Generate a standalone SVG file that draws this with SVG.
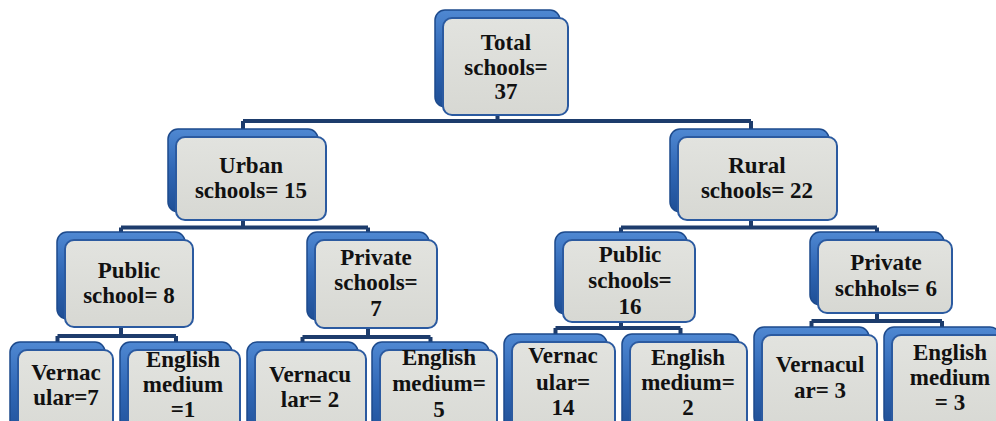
<svg xmlns="http://www.w3.org/2000/svg" width="996" height="421" viewBox="0 0 996 421">
<defs>
<linearGradient id="gb" x1="0" y1="0" x2="0" y2="1">
<stop offset="0" stop-color="#4f88d2"/>
<stop offset="0.5" stop-color="#2f66b4"/>
<stop offset="1" stop-color="#1f4f96"/>
</linearGradient>
<linearGradient id="gg" x1="0" y1="0" x2="0" y2="1">
<stop offset="0" stop-color="#e2e3df"/>
<stop offset="1" stop-color="#d7d8d3"/>
</linearGradient>
<style>
.b{fill:url(#gb);stroke:#1d4a8c;stroke-width:1.5}
.g{fill:url(#gg);stroke:#2b5aa0;stroke-width:2}
.c{fill:none;stroke:#1d3c6c;stroke-width:4}
.t{font-family:'Liberation Serif','Times New Roman',Tinos,'DejaVu Serif',serif;font-weight:bold;font-size:23px;fill:#111;text-anchor:middle}
</style>
</defs>
<rect width="996" height="421" fill="#ffffff"/>
<g id="connectors">
<path class="c" d="M497.5 107V121M243 121H751M243 121V129M751 121V129"/>
<path class="c" d="M243 220V227.5M121 227.5H368M121 227.5V232M368 227.5V232"/>
<path class="c" d="M751 220V227.5M621 227.5H877M621 227.5V232M877 227.5V232"/>
<path class="c" d="M121 327V336M57.5 336H176M57.5 336V342M176 336V342"/>
<path class="c" d="M368 328V337M302.5 337H430.5M302.5 337V342M430.5 337V342"/>
<path class="c" d="M621 322V328M555.5 328H680.5M555.5 328V334M680.5 328V334"/>
<path class="c" d="M877 313V321M811.5 321H942M811.5 321V327M942 321V327"/>
</g>
<g id="n-total">
<rect class="b" x="435" y="10" width="125" height="97" rx="10"/>
<rect class="g" x="443" y="18" width="125" height="97" rx="9"/>
<text class="t" x="506" y="50">Total</text><text class="t" x="506" y="75">schools=</text><text class="t" x="506" y="99">37</text>
</g>
<g id="n-urban">
<rect class="b" x="168" y="129" width="150" height="83" rx="10"/>
<rect class="g" x="176" y="137" width="150" height="83" rx="9"/>
<text class="t" x="251" y="173">Urban</text><text class="t" x="251" y="198">schools= 15</text>
</g>
<g id="n-rural">
<rect class="b" x="670" y="129" width="159" height="83" rx="10"/>
<rect class="g" x="678" y="137" width="159" height="83" rx="9"/>
<text class="t" x="757" y="173">Rural</text><text class="t" x="757" y="198">schools= 22</text>
</g>
<g id="n-urban-public">
<rect class="b" x="57" y="232" width="128" height="87" rx="10"/>
<rect class="g" x="65" y="240" width="128" height="87" rx="9"/>
<text class="t" x="129" y="278">Public</text><text class="t" x="129" y="303">school= 8</text>
</g>
<g id="n-urban-private">
<rect class="b" x="307" y="232" width="122" height="88" rx="10"/>
<rect class="g" x="315" y="240" width="122" height="88" rx="9"/>
<text class="t" x="376" y="265">Private</text><text class="t" x="376" y="290">schools=</text><text class="t" x="376" y="316">7</text>
</g>
<g id="n-rural-public">
<rect class="b" x="555" y="232" width="132" height="82" rx="10"/>
<rect class="g" x="563" y="240" width="132" height="82" rx="9"/>
<text class="t" x="630" y="262">Public</text><text class="t" x="630" y="288">schools=</text><text class="t" x="630" y="314">16</text>
</g>
<g id="n-rural-private">
<rect class="b" x="810" y="232" width="134" height="73" rx="10"/>
<rect class="g" x="818" y="240" width="134" height="73" rx="9"/>
<text class="t" x="886" y="270">Private</text><text class="t" x="886" y="296">schhols= 6</text>
</g>
<g id="n-up-vern">
<rect class="b" x="10" y="342" width="95" height="100" rx="10"/>
<rect class="g" x="18" y="350" width="95" height="100" rx="9"/>
<text class="t" x="66" y="380">Vernac</text><text class="t" x="66" y="405">ular=7</text>
</g>
<g id="n-up-eng">
<rect class="b" x="120" y="342" width="112" height="100" rx="10"/>
<rect class="g" x="128" y="350" width="112" height="100" rx="9"/>
<text class="t" x="183" y="367">English</text><text class="t" x="183" y="392">medium</text><text class="t" x="183" y="417">=1</text>
</g>
<g id="n-upr-vern">
<rect class="b" x="247" y="342" width="111" height="100" rx="10"/>
<rect class="g" x="255" y="350" width="111" height="100" rx="9"/>
<text class="t" x="310" y="382">Vernacu</text><text class="t" x="310" y="407">lar= 2</text>
</g>
<g id="n-upr-eng">
<rect class="b" x="372" y="342" width="117" height="100" rx="10"/>
<rect class="g" x="380" y="350" width="117" height="100" rx="9"/>
<text class="t" x="439" y="365">English</text><text class="t" x="439" y="391">medium=</text><text class="t" x="439" y="417">5</text>
</g>
<g id="n-rp-vern">
<rect class="b" x="504" y="334" width="103" height="100" rx="10"/>
<rect class="g" x="512" y="342" width="103" height="100" rx="9"/>
<text class="t" x="563" y="363">Vernac</text><text class="t" x="563" y="390">ular=</text><text class="t" x="563" y="415">14</text>
</g>
<g id="n-rp-eng">
<rect class="b" x="622" y="334" width="117" height="100" rx="10"/>
<rect class="g" x="630" y="342" width="117" height="100" rx="9"/>
<text class="t" x="688" y="365">English</text><text class="t" x="688" y="390">medium=</text><text class="t" x="688" y="415">2</text>
</g>
<g id="n-rpr-vern">
<rect class="b" x="754" y="327" width="115" height="100" rx="10"/>
<rect class="g" x="762" y="335" width="115" height="100" rx="9"/>
<text class="t" x="820" y="372">Vernacul</text><text class="t" x="820" y="398">ar= 3</text>
</g>
<g id="n-rpr-eng">
<rect class="b" x="884" y="327" width="116" height="100" rx="10"/>
<rect class="g" x="892" y="335" width="116" height="100" rx="9"/>
<text class="t" x="950" y="360">English</text><text class="t" x="950" y="385">medium</text><text class="t" x="950" y="410">= 3</text>
</g>
</svg>
